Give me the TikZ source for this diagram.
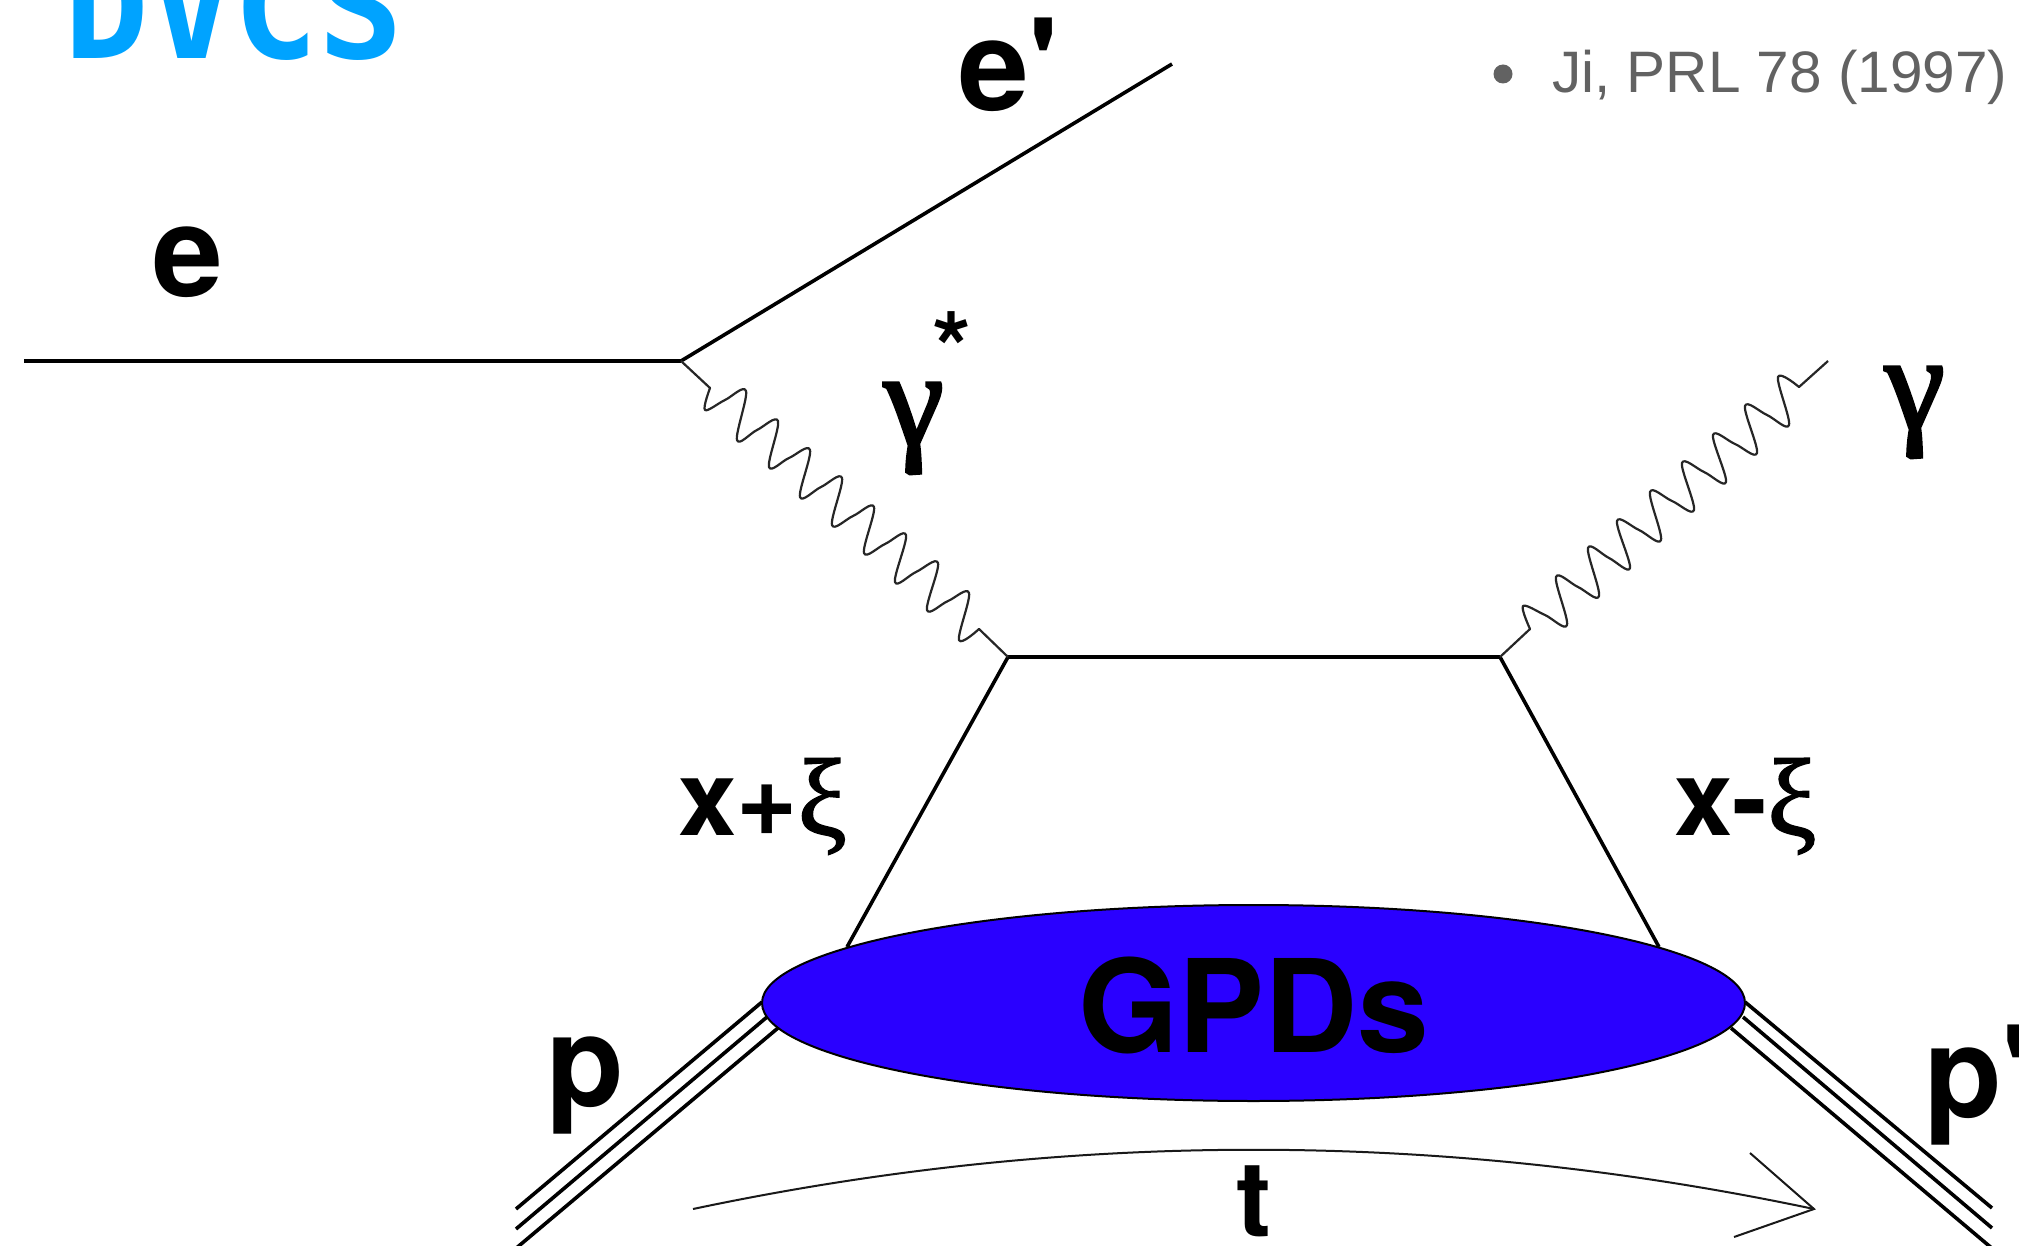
\documentclass[tikz,border=0pt]{standalone}
\usepackage{fontspec}
\usetikzlibrary{shapes.geometric}
\setmainfont{TeX Gyre Heros}
\newfontfamily\gamfont[FakeBold=2.5]{Liberation Serif}
\newfontfamily\xifont[FakeBold=1.5]{Liberation Serif}
\newfontfamily\titlefont{DejaVu Sans Mono}
\newfontfamily\notefont{Liberation Sans}
\definecolor{gpdblue}{RGB}{42,0,255}
\definecolor{titleblue}{RGB}{0,163,255}
\definecolor{notegray}{RGB}{98,98,98}
\newcommand{\fs}[1]{\fontsize{#1}{#1}\selectfont}
\tikzset{
  lab/.style={inner sep=0pt,outer sep=0pt,anchor=base west,font=\fs{127}\bfseries},
  gam/.style={inner sep=0pt,outer sep=0pt,anchor=base west,font=\gamfont\fs{135}},
  fermion/.style={line width=3.6pt,black},
  photonline/.style={line width=2.2pt,black!85,line join=round},
  triple/.style={line width=3.6pt,black},
  thinline/.style={line width=2pt,black!90},
}
\begin{document}
\begin{tikzpicture}[x=1pt,y=-1pt]
\clip (0,0) rectangle (2019,1246);
\fill[white] (0,0) rectangle (2019,1246);
% named points
\coordinate (ein) at (24,361);
\coordinate (A) at (681,361);
\coordinate (eout) at (1172,64);
\coordinate (B) at (1008,657);
\coordinate (C) at (1500,657);
\coordinate (gend) at (1828,361);
\coordinate (QL) at (847,947);
\coordinate (QR) at (1659,947);
\coordinate (pa1) at (762,1002); \coordinate (pa2) at (516,1209);
\coordinate (pb1) at (767,1017); \coordinate (pb2) at (516,1229);
\coordinate (pc1) at (778,1028); \coordinate (pc2) at (514,1250);
\coordinate (qa1) at (1745,1002); \coordinate (qa2) at (1992,1208);
\coordinate (qb1) at (1743,1017); \coordinate (qb2) at (1992,1228);
\coordinate (qc1) at (1731,1028); \coordinate (qc2) at (1994,1250);
\coordinate (tstart) at (693,1209);
\coordinate (ttip) at (1814,1209);
\coordinate (barbA) at (1750,1153);
\coordinate (barbB) at (1734,1237);
% fermion lines
\draw[fermion] (ein) -- (A);
\draw[fermion] (A) -- (eout);
\draw[fermion] (B) -- (C);
\draw[fermion] (B) -- (QL);
\draw[fermion] (C) -- (QR);
% photons
\draw[photonline] (A) -- (710,388) -- plot[smooth,tension=0.6] coordinates {
 (710,388) (705,410) (725,400) (746,391) (737,440) (757,430) (778,421) (769,467) (789,458) (810,450)
 (800,497) (821,487) (842,478) (832,525) (853,516) (874,507) (864,553) (885,544) (906,535)
 (895,582) (916,572) (938,563) (927,610) (948,601) (969,593) (959,640) (979,629)} -- (B);
\draw[photonline] (C) -- (1530,629) -- plot[smooth,tension=0.6] coordinates {
 (1530,629) (1523,606) (1545,615) (1567,625) (1556,577) (1578,587) (1599,596) (1588,548) (1609,558) (1630,568)
 (1617,521) (1639,530) (1661,540) (1650,492) (1672,501) (1694,510) (1682,463) (1704,472) (1726,482)
 (1713,435) (1735,444) (1757,453) (1745,406) (1767,415) (1789,425) (1778,377) (1799,387)} -- (gend);
% proton lines
\draw[triple] (pa1) -- (pa2);
\draw[triple] (pb1) -- (pb2);
\draw[triple] (pc1) -- (pc2);
\draw[triple] (qa1) -- (qa2);
\draw[triple] (qb1) -- (qb2);
\draw[triple] (qc1) -- (qc2);
% blob
\node[ellipse,draw=black,line width=2pt,fill=gpdblue,minimum width=983pt,minimum height=196pt,inner sep=0pt] (gpd) at (1253.5,1003) {};
% momentum transfer arrow
\draw[thinline] (tstart) .. controls (1067,1130) and (1440,1130) .. (ttip);
\draw[thinline] (barbA) -- (ttip) -- (barbB);
% labels
\node[lab] (le) at (152,297) {e};
\node[lab] (lep) at (958,111) {e\textquotesingle};
\node[lab] (lp) at (546,1106) {p};
\node[lab] (lpp) at (1924,1117) {p\textquotesingle};
\node[lab,font=\fs{129}\bfseries] (lgpd) at (1078,1052) {GPDs};
\node[lab,font=\fs{105}\bfseries] (lt) at (1236,1236) {t};
\node[gam] (lg1) at (884,445) {γ};
\node[gam] (lg2) at (1885,429) {γ};
\node[lab,font=\fs{100}\bfseries] (lstar) at (932,385) {*};
\node[lab,font=\fs{105}\bfseries] (lxp) at (678,835) {x+\xifont\mdseries\fs{110}ξ};
\node[lab,font=\fs{105}\bfseries] (lxm) at (1674,835) {x-\xifont\mdseries\fs{110}ξ};
% title and reference
\node[inner sep=0pt,anchor=base west,font=\titlefont\fs{141}\bfseries,text=titleblue] (title) at (64,59) {DVCS};
\node[circle,fill=notegray,inner sep=0pt,minimum size=19pt] (bullet) at (1503,74) {};
\node[inner sep=0pt,anchor=base west,font=\notefont\fs{58.5},text=notegray] (note) at (1552,93) {Ji, PRL 78 (1997)};
\end{tikzpicture}
\end{document}
